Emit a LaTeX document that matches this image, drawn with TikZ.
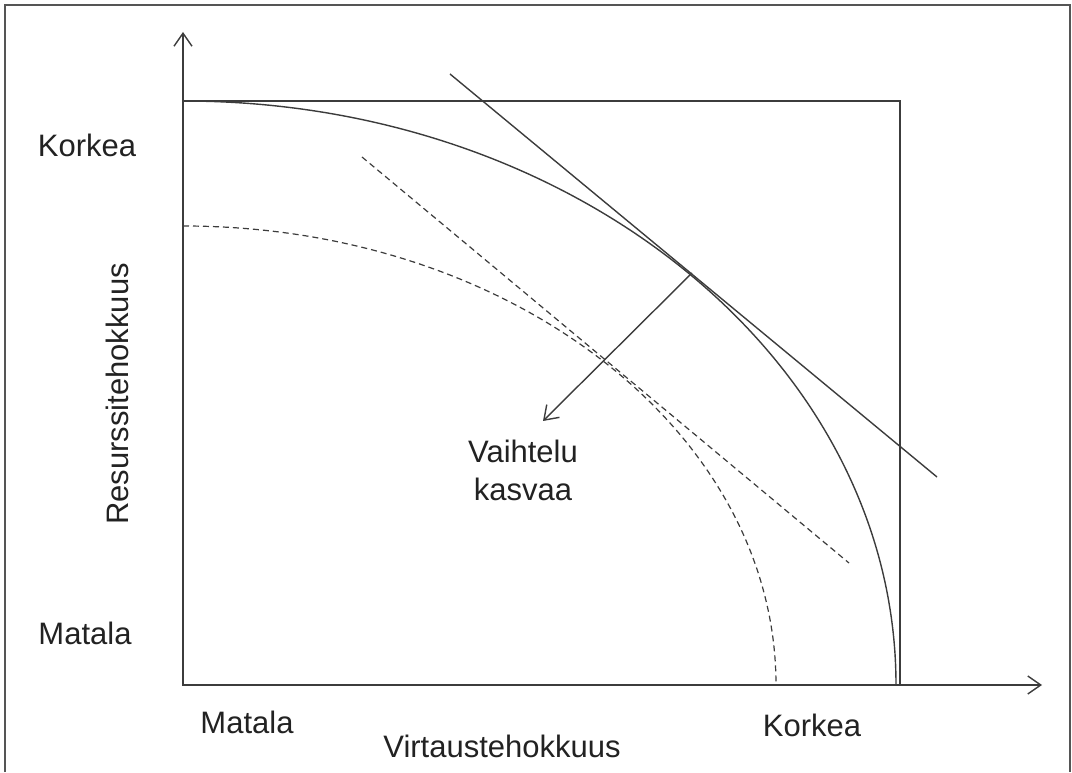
\documentclass[tikz,border=0pt]{standalone}
\usepackage{fontspec}
\setmainfont{Liberation Sans}
\usepackage{xcolor}
\usepackage{tikz}
\usetikzlibrary{arrows.meta,positioning}
\definecolor{cline}{HTML}{3C3C3C}
\definecolor{cframe}{HTML}{555555}
\definecolor{cink}{HTML}{222222}
\tikzset{
  >={Straight Barb[length=6.5pt,width=9pt]},
  axis/.style={->,draw=cline,line width=0.7pt},
  curve/.style={draw=cline,line width=0.7pt},
  dcurve/.style={draw=cline,line width=0.6pt,dash pattern=on 3pt off 2pt},
  lbl/.style={font=\fontsize{15.5}{19}\selectfont,text=cink,inner sep=0pt},
}

\begin{document}
\begin{tikzpicture}[x=0.5pt,y=0.5pt]
\useasboundingbox (0,0) rectangle (1072,772);

% ================= FRAME =================
\draw[cframe,line width=0.8pt] (5,0) -- (5,767) -- (1070,767) -- (1070,0);

% ================= AXES =================
\coordinate (o) at (183,87);
\coordinate (ytop) at (183,740);
\coordinate (xend) at (1042,87);
\draw[curve] (o) rectangle (900,671);
\draw[axis] (o) -- (ytop);
\draw[axis] (o) -- (xend);

% ================= CURVES =================
\draw[curve] (183,671) arc[start angle=90,end angle=0,x radius=713,y radius=584];
\draw[dcurve] (183,546) arc[start angle=90,end angle=0,x radius=593,y radius=459];
\draw[curve] (450,698) -- (937,295);
\draw[dcurve] (362,615) -- (849,209);

% ================= LABELS =================
\node[lbl] (yhi) at (87,627) {Korkea};
\node[lbl] (ylo) at (85,139) {Matala};
\node[lbl,rotate=90] (ytit) at (117,378) {Resurssitehokkuus};
\node[lbl] (xlo) at (247,50) {Matala};
\node[lbl] (xtit) at (502,26) {Virtaustehokkuus};
\node[lbl] (xhi) at (812,47) {Korkea};
\node[lbl,align=center] (vk) at (523,302) {Vaihtelu\\kasvaa};

% variation arrow
\coordinate (tp) at (692,499);
\coordinate (vtip) at (543,351);
\draw[axis] (tp) -- (vtip);

\end{tikzpicture}
\end{document}
